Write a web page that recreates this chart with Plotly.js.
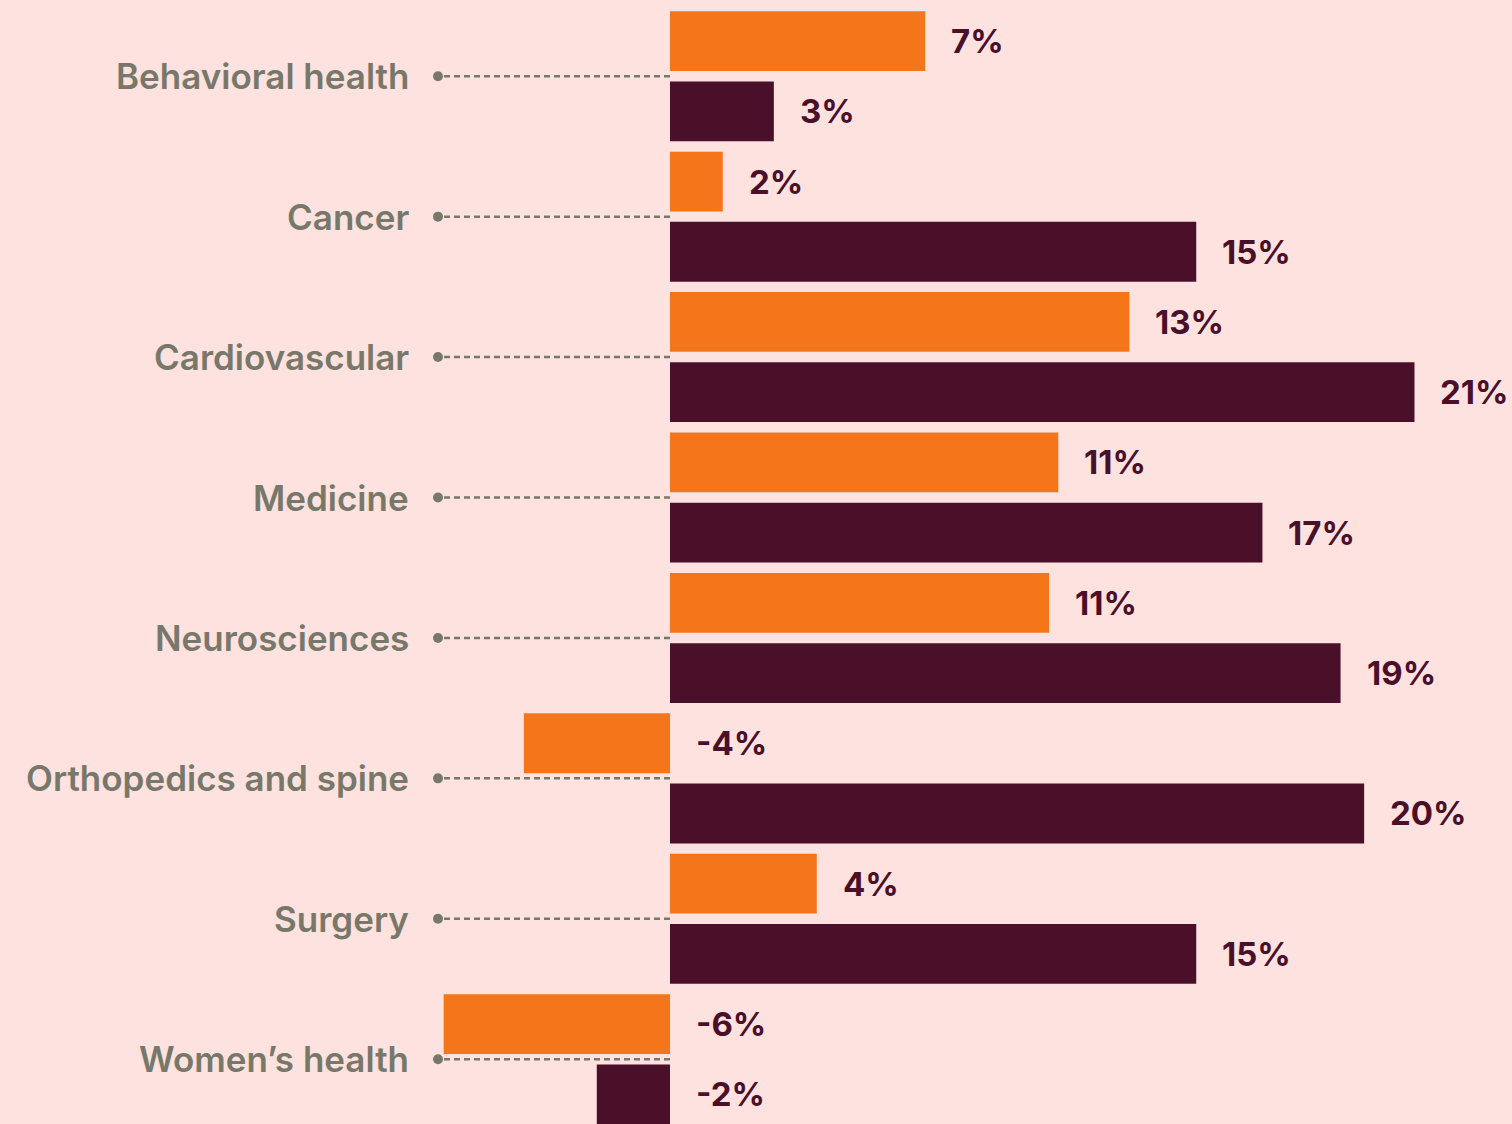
<!DOCTYPE html>
<html>
<head>
<meta charset="utf-8">
<script src="https://cdn.plot.ly/plotly-3.0.1.min.js"></script>
<style>
  html, body { margin: 0; padding: 0; background: #fde2df; }
  #chart { width: 1512px; height: 1124px; }
</style>
</head>
<body>
<div id="chart"></div>
<script>
// ---- Data ----
const categories = ["Behavioral health", "Cancer", "Cardiovascular", "Medicine", "Neurosciences", "Orthopedics and spine", "Surgery", "Women\u2019s health"];
const seriesA = [7.25, 1.5, 13.05, 11.03, 10.77, -4.15, 4.17, -6.43];      // orange
const seriesB = [2.95, 14.95, 21.15, 16.83, 19.05, 19.72, 14.95, -2.08]; // maroon
const labelsA = ["7%", "2%", "13%", "11%", "11%", "-4%", "4%", "-6%"];
const labelsB = ["3%", "15%", "21%", "17%", "19%", "20%", "15%", "-2%"];

// ---- Styles ----
const BG = "#fde2df";
const ORANGE = "#f5761a";
const MAROON = "#4a1029";
const GREY = "#78786a";
const FONT = "Inter, 'Open Sans', sans-serif";

const pos = categories.map((_, i) => i);

const traces = [
  { type: "bar", orientation: "h", y: pos, x: seriesA, marker: { color: ORANGE, line: { width: 0 } }, hoverinfo: "skip", name: "A" },
  { type: "bar", orientation: "h", y: pos, x: seriesB, marker: { color: MAROON, line: { width: 0 } }, hoverinfo: "skip", name: "B" }
];

const annotations = [];
const shapes = [];
categories.forEach((c, i) => {
  annotations.push({
    xref: "x", yref: "y", x: 0, y: i, xanchor: "right", yanchor: "middle", xshift: -259,
    text: c, showarrow: false, font: { family: FONT, size: 35, color: GREY, weight: 600 }
  });
  shapes.push({
    type: "line", layer: "below", xref: "x", yref: "y", xsizemode: "pixel", xanchor: 0,
    x0: -226, x1: 0, y0: i, y1: i, line: { color: GREY, width: 2.5, dash: "6px,4px" }
  });
  shapes.push({
    type: "circle", layer: "below", xref: "x", yref: "y", xsizemode: "pixel", ysizemode: "pixel",
    xanchor: 0, yanchor: i, x0: -237, x1: -227, y0: -5, y1: 5, fillcolor: GREY, line: { width: 0 }
  });
});
function addVals(vals, labels, off) {
  vals.forEach((v, i) => {
    annotations.push({
      xref: "x", yref: "y", x: Math.max(v, 0), y: i + off, xanchor: "left", yanchor: "middle", xshift: 24,
      text: labels[i], showarrow: false, font: { family: FONT, size: 33, color: MAROON, weight: 700 }
    });
  });
}
addVals(seriesA, labelsA, -0.25);
addVals(seriesB, labelsB, 0.25);

const pxPerUnit = 35.2;
const pitch = 140.43;
const plotH = 1124 - 6;
const layout = {
  width: 1512, height: 1124,
  margin: { l: 0, r: 0, t: 6, b: 0 },
  paper_bgcolor: BG, plot_bgcolor: BG,
  barmode: "group", bargap: 0, bargroupgap: 10.4 / 70.2,
  showlegend: false,
  xaxis: { range: [-670 / pxPerUnit, (1512 - 670) / pxPerUnit], visible: false, fixedrange: true },
  yaxis: { range: [-0.5 + plotH / pitch, -0.5], visible: false, fixedrange: true },
  annotations: annotations,
  shapes: shapes
};

Plotly.newPlot("chart", traces, layout, { displayModeBar: false, staticPlot: true });
</script>
</body>
</html>
